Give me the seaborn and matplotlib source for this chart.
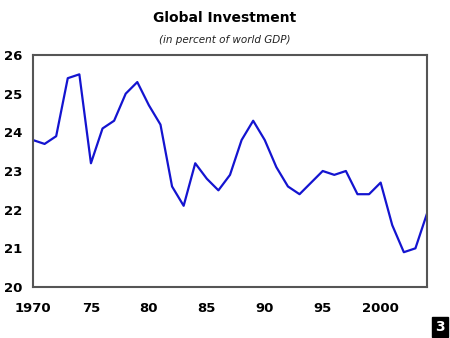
import matplotlib
matplotlib.use("Agg")
import matplotlib.pyplot as plt
import seaborn as sns
import pandas as pd

years = list(range(1970, 2005))
investment = [23.8, 23.7, 23.9, 25.4, 25.5, 23.2, 24.1, 24.3, 25.0, 25.3,
              24.7, 24.2, 22.6, 22.1, 23.2, 22.8, 22.5, 22.9, 23.8, 24.3,
              23.8, 23.1, 22.6, 22.4, 22.7, 23.0, 22.9, 23.0, 22.4, 22.4,
              22.7, 21.6, 20.9, 21.0, 21.9]
x_ticks = [1970, 1975, 1980, 1985, 1990, 1995, 2000]
x_tick_labels = ["1970", "75", "80", "85", "90", "95", "2000"]
y_ticks = [20, 21, 22, 23, 24, 25, 26]

sns.set_style("white")
plt.rcParams['font.family'] = ['DejaVu Sans']
plt.rcParams['text.color'] = 'black'

df = pd.DataFrame({"year": years, "value": investment})

fig = plt.figure(figsize=(4.5, 3.38), dpi=100)
ax = fig.add_axes([33/450, 51/338, 394/450, 232/338])
sns.lineplot(data=df, x="year", y="value", ax=ax, color="#1414d0", linewidth=1.6)

ax.set_xlim(1970, 2004)
ax.set_ylim(20, 26)
ax.set_xticks(x_ticks)
ax.set_xticklabels(x_tick_labels, fontsize=9.5, fontweight="heavy", color="black")
ax.set_yticks(y_ticks)
ax.set_yticklabels([str(v) for v in y_ticks], fontsize=9.5, fontweight="heavy", color="black")
ax.set_xlabel("")
ax.set_ylabel("")
ax.tick_params(axis="both", direction="in", length=3, color="#555555", width=0.8)
ax.tick_params(axis="x", pad=11)
ax.tick_params(axis="y", pad=8)
for s in ax.spines.values():
    s.set_visible(True)
    s.set_color("#555555")
    s.set_linewidth(1.5)

fig.text(0.5, 1 - 18/338, "Global Investment", ha="center", va="center",
         fontsize=10, fontweight="heavy", color="black")
fig.text(0.5, 1 - 40/338, "(in percent of world GDP)", ha="center", va="center",
         fontsize=7.5, fontstyle="italic", color="#222222")
fig.text(440/450, 1 - 327/338, "3", ha="center", va="center", fontsize=10,
         fontweight="bold", color="white",
         bbox=dict(boxstyle="square,pad=0.25", facecolor="black", edgecolor="black"))

fig.savefig("out.png", dpi=100)
